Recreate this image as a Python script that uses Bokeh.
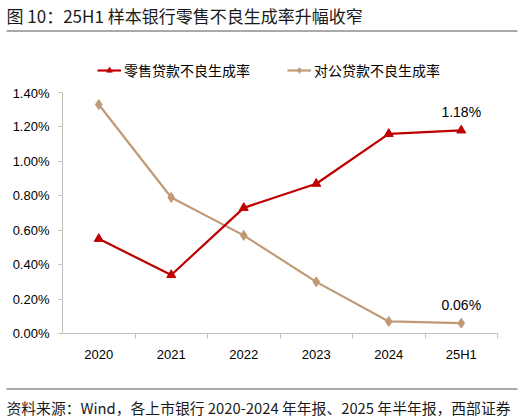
from bokeh.plotting import figure
from bokeh.layouts import column
from bokeh.models import (Range1d, FixedTicker, Legend, LegendItem, ColumnDataSource)
from bokeh.core.properties import value
from bokeh.embed import file_html
from bokeh.resources import INLINE

# ---- data -------------------------------------------------------------
categories = ["2020", "2021", "2022", "2023", "2024", "25H1"]
retail_npl_gen = [0.55, 0.34, 0.73, 0.87, 1.16, 1.18]     # 零售贷款不良生成率 (%)
corporate_npl_gen = [1.33, 0.79, 0.57, 0.30, 0.07, 0.06]  # 对公贷款不良生成率 (%)
y_ticks = [0.0, 0.2, 0.4, 0.6, 0.8, 1.0, 1.2, 1.4]

title_text = "图 10：25H1 样本银行零售不良生成率升幅收窄"
source_text = "资料来源：Wind，各上市银行 2020-2024 年年报、2025 年半年报，西部证券"
retail_name = "零售贷款不良生成率"
corporate_name = "对公贷款不良生成率"

RED = "#C00000"
TAN = "#C09A76"
CJK = "Noto Sans CJK SC"
LATIN = "Liberation Sans"
W = 527
NAN = float("nan")

line_style = dict(line_width=2.2)
ret_marker = dict(marker="triangle", size=9)
corp_marker = dict(marker="diamond", size=10)


def banner(height):
    f = figure(width=W, height=height, output_backend="svg", toolbar_location=None,
               x_range=Range1d(0, W), y_range=Range1d(height, 0),
               x_axis_location=None, y_axis_location=None, min_border=0,
               frame_align=False)
    f.grid.visible = False
    f.outline_line_color = None
    return f


# ---- header: title, rule and legend -------------------------------------
top = banner(85)
top.text(x=[6], y=[15], text=[title_text], text_font=value(CJK), text_font_size="17px",
         text_baseline="middle", text_align="left", text_color="#1a1a1a")
top.segment(x0=[6], y0=[30.5], x1=[517], y1=[30.5], line_color="#555555", line_width=1)

# hidden (NaN) renderers carrying the series styles for the legend swatches
key_ret_line = top.line(x=[NAN], y=[NAN], line_color=RED, **line_style)
key_ret_pts = top.scatter(x=[NAN], y=[NAN], fill_color=RED, line_color=RED, **ret_marker)
key_corp_line = top.line(x=[NAN], y=[NAN], line_color=TAN, **line_style)
key_corp_pts = top.scatter(x=[NAN], y=[NAN], fill_color=TAN, line_color=TAN, **corp_marker)

legend = Legend(items=[LegendItem(label=retail_name, renderers=[key_ret_line, key_ret_pts]),
                       LegendItem(label=corporate_name, renderers=[key_corp_line, key_corp_pts])],
                orientation="horizontal", location=(97, 5),
                glyph_width=24, glyph_height=14, label_standoff=3, spacing=37,
                padding=0, margin=0, border_line_color=None, background_fill_alpha=0,
                label_text_font=CJK, label_text_font_size="14px", label_text_color="#000000")
top.add_layout(legend, "center")

# ---- main chart ---------------------------------------------------------
x_pos = [i + 0.5 for i in range(len(categories))]

p = figure(width=W, height=295, output_backend="svg", toolbar_location=None,
           x_range=Range1d(0, len(categories)), y_range=Range1d(0, 1.4),
           min_border_left=62, min_border_right=30, min_border_top=7, min_border_bottom=47,
           frame_align=False)
p.grid.visible = False
p.outline_line_color = None

ya = p.yaxis[0]
ya.ticker = FixedTicker(ticks=y_ticks, minor_ticks=[])
ya.major_label_overrides = {t: f"{t:.2f}%" for t in y_ticks}
ya.axis_line_color = "#BFBFBF"
ya.major_tick_line_color = "#BFBFBF"
ya.major_tick_out = 4
ya.major_tick_in = 0
ya.major_label_standoff = 9
ya.major_label_text_font = LATIN
ya.major_label_text_font_size = "13px"
ya.major_label_text_color = "#000000"

xa = p.xaxis[0]
xa.ticker = FixedTicker(ticks=x_pos, minor_ticks=list(range(1, len(categories) + 1)))
xa.major_label_overrides = {x: c for x, c in zip(x_pos, categories)}
xa.axis_line_color = "#BFBFBF"
xa.major_tick_out = 0
xa.major_tick_in = 0
xa.minor_tick_line_color = "#BFBFBF"
xa.minor_tick_out = 5
xa.minor_tick_in = 0
xa.major_label_standoff = 8
xa.major_label_text_font = LATIN
xa.major_label_text_font_size = "13px"
xa.major_label_text_color = "#000000"

src = ColumnDataSource(dict(x=x_pos, retail=retail_npl_gen, corp=corporate_npl_gen))

p.line("x", "corp", source=src, line_color=TAN, **line_style)
p.scatter("x", "corp", source=src, fill_color=TAN, line_color=TAN, **corp_marker)
p.line("x", "retail", source=src, line_color=RED, **line_style)
p.scatter("x", "retail", source=src, fill_color=RED, line_color=RED, **ret_marker)

# value labels on the latest period
last = dict(x=[x_pos[-1], x_pos[-1]],
            y=[retail_npl_gen[-1], corporate_npl_gen[-1]],
            t=[f"{retail_npl_gen[-1]:.2f}%", f"{corporate_npl_gen[-1]:.2f}%"])
p.text(x="x", y="y", text="t", source=ColumnDataSource(last), text_align="center",
       text_baseline="bottom", y_offset=-10, text_font=value(LATIN),
       text_font_size="14px", text_color="#000000")

# ---- footer -----------------------------------------------------------
bottom = banner(40)
bottom.segment(x0=[6], y0=[8.5], x1=[517], y1=[8.5], line_color="#555555", line_width=1)
bottom.text(x=[6], y=[27], text=[source_text], text_font=value(CJK), text_font_size="14.8px",
            text_baseline="middle", text_align="left", text_color="#1a1a1a")

layout = column(top, p, bottom, spacing=0)
open("out.html", "w").write(file_html(layout, INLINE))
